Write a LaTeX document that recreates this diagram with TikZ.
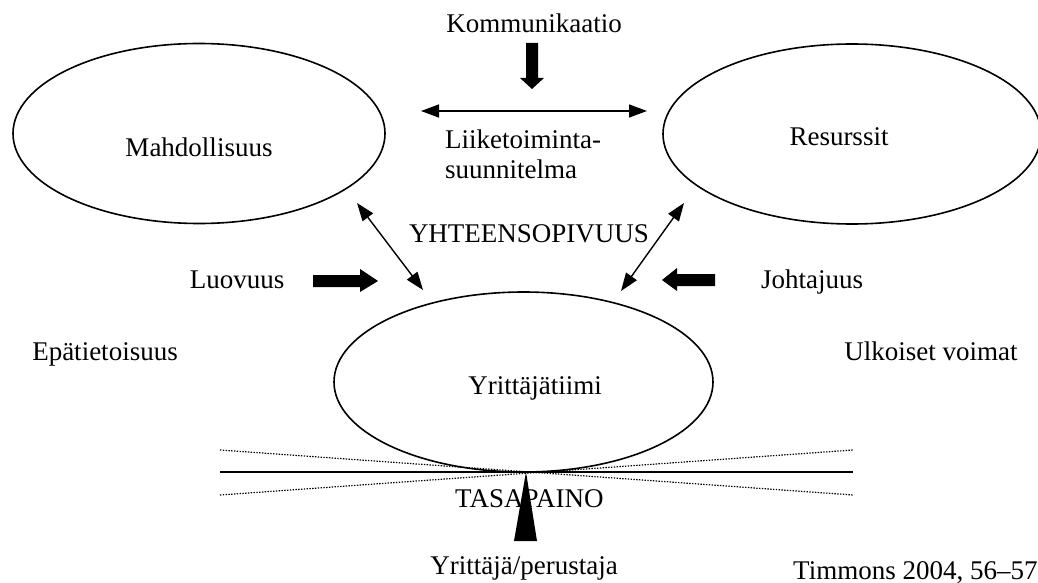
\documentclass[tikz,border=0pt]{standalone}
\usepackage{fontspec}
\setmainfont{Liberation Serif}
\usetikzlibrary{shapes.geometric,arrows.meta}
\begin{document}
\begin{tikzpicture}[x=1pt,y=-1pt,
  lbl/.style={inner sep=0pt, anchor=base, font=\fontsize{27}{32}\selectfont},
  oval/.style={draw, ellipse, line width=1.6pt, minimum height=180pt, inner sep=0pt},
  dbl/.style={{Triangle[length=18pt,width=13pt]}-{Triangle[length=18pt,width=13pt]}, line width=1.4pt},
  blk/.style={fill=black},
  dots/.style={line width=1.2pt, dash pattern=on 1.4pt off 1.4pt},
  base/.style={line width=1.8pt}]
\useasboundingbox (0,0) rectangle (1038,583);

% ellipses
\node[oval, minimum width=372pt] (mah) at (199,133.5) {};
\node[oval, minimum width=378pt] (res) at (852,134) {};
\node[oval, minimum width=379pt] (tiimi) at (523.5,382) {};

% texts
\node[lbl] (tkom) at (534,33) {Kommunikaatio};
\node[lbl, anchor=base west] (tliik) at (445,148) {Liiketoiminta-};
\node[lbl, anchor=base west] (tsuun) at (445,178) {suunnitelma};
\node[lbl] (tmah) at (199,156) {Mahdollisuus};
\node[lbl] (tres) at (839,146) {Resurssit};
\node[lbl] (tyht) at (529,242) {YHTEENSOPIVUUS};
\node[lbl] (tluo) at (237,288) {Luovuus};
\node[lbl] (tjoh) at (812,288) {Johtajuus};
\node[lbl] (tepa) at (105,360) {Epätietoisuus};
\node[lbl] (tulk) at (931,360) {Ulkoiset voimat};
\node[lbl] (ttii) at (535,394) {Yrittäjätiimi};
\node[lbl, anchor=base west] (ttas) at (455,507) {TASAPAINO};
\node[lbl] (tyri) at (524,574) {Yrittäjä/perustaja};
\node[lbl, anchor=base west] (ttim) at (793,579) {Timmons 2004, 56–57};

% thin double arrows
\coordinate (c1) at (421,111); \coordinate (c2) at (647,111);
\draw[dbl] (c1) -- (c2);
\coordinate (a1) at (357,203); \coordinate (a2) at (423,290);
\draw[dbl] (a1) -- (a2);
\coordinate (b1) at (684,203); \coordinate (b2) at (621,291);
\draw[dbl] (b1) -- (b2);

% block arrows
\fill[blk] (526,43) -- (538,43) -- (538,78) -- (544,78) -- (532,89) -- (520,78) -- (526,78) -- cycle;
\fill[blk] (313,275) -- (360,275) -- (360,269) -- (378,281) -- (360,292) -- (360,287) -- (313,287) -- cycle;
\fill[blk] (715,274) -- (677,274) -- (677,268) -- (662,280) -- (677,291) -- (677,286) -- (715,286) -- cycle;

% balance
\coordinate (l1) at (220,472); \coordinate (l2) at (853,472);
\draw[base] (l1) -- (l2);
\coordinate (d1) at (220,450); \coordinate (d2) at (853,495);
\coordinate (d3) at (220,495); \coordinate (d4) at (853,450);
\draw[dots] (d1) -- (d2);
\draw[dots] (d3) -- (d4);
\fill[blk] (526,472) -- (537,541) -- (514,541) -- cycle;
\end{tikzpicture}
\end{document}
